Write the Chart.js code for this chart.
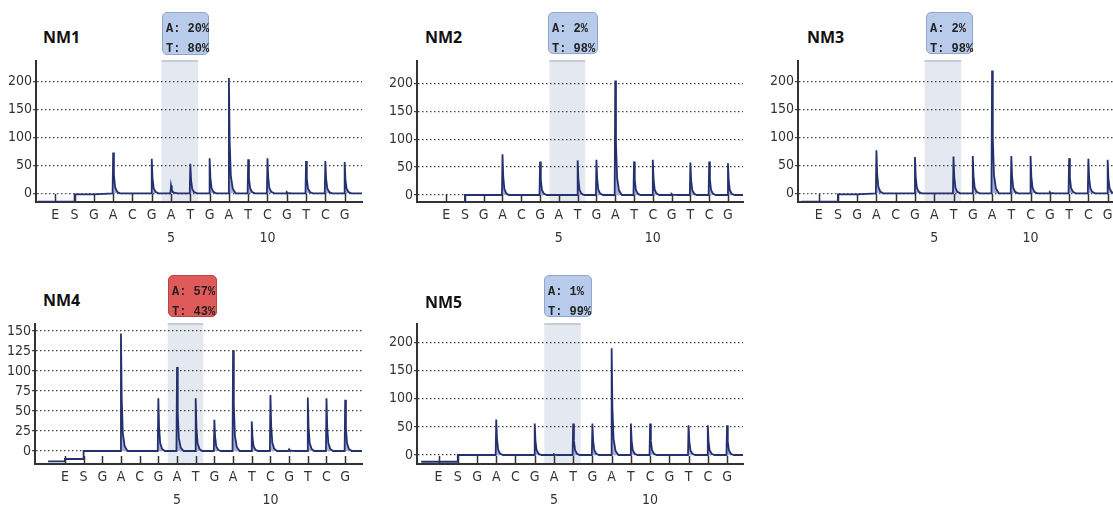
<!DOCTYPE html>
<html>
<head>
<meta charset="utf-8">
<script src="https://cdn.jsdelivr.net/npm/chart.js@4.4.1/dist/chart.umd.min.js"></script>
<style>
    html, body { margin: 0; padding: 0; background: #fff; }
    body { width: 1113px; height: 506px; position: relative; overflow: hidden; }
    canvas { position: absolute; }
    .title { position: absolute; font-family: 'Open Sans', sans-serif; font-weight: 700; font-size: 16px; color: #111; line-height: 20px; }
    .allele { position: absolute; box-sizing: border-box; border-radius: 5px; padding: 6px 0 0 3px;
              font-family: 'Liberation Mono', monospace; font-weight: 700; font-size: 12px; line-height: 20px; color: #222; white-space: pre; }
    .allele.ok { background: #b8cbeb; border: 1px solid #8fa5cc; }
    .allele.warn { background: #e15a5a; border: 1px solid #b94444; }
</style>
</head>
<body>
<script>
// --- Data ---
const dispensation = ['E', 'S', 'G', 'A', 'C', 'G', 'A', 'T', 'G', 'A', 'T', 'C', 'G', 'T', 'C', 'G'];
const positionLabels = ['', '', '', '', '', '', '5', '', '', '', '', '10', '', '', '', ''];

// peak heights per dispensation (E, S, G, A, C, ...)
const nm1Heights = [0, 0, 0, 73, 0, 62, 14, 53, 63, 207, 61, 63, 2, 58, 58, 56];
const nm2Heights = [0, 0, 0, 73, 0, 60, 0, 62, 63, 205, 60, 63, 2, 58, 60, 57];
const nm3Heights = [0, 0, 0, 77, 0, 65, 0, 66, 67, 220, 67, 67, 2, 63, 62, 60];
const nm4Heights = [0, 0, 0, 147, 0, 66, 105, 66, 39, 126, 37, 70, 2, 67, 66, 64];
const nm5Heights = [0, 0, 0, 63, 0, 56, 1, 56, 56, 190, 56, 56, 0, 53, 53, 53];

// baseline level before E, between E-S, between S-G
const nm1Lead = [-15, -15, -2];
const nm2Lead = [-15, -15, 0];
const nm3Lead = [-15, -15, -2];
const nm4Lead = [-13, -10, 0];
const nm5Lead = [-12, -12, 0];
const traceStart = [0.1, 1.2, 0.1, 0.1, 0.1];

const yTicksMain = [0, 50, 100, 150, 200];
const yTicksNM4 = [0, 25, 50, 75, 100, 125, 150];

const sampleNames = ['NM1', 'NM2', 'NM3', 'NM4', 'NM5'];
const alleleA = ['20%', '2%', '2%', '57%', '1%'];
const alleleT = ['80%', '98%', '98%', '43%', '99%'];

const snpRange = [6.5, 8.4]; // shaded A/T position

// --- Layout (chart area in page px) ---
const panels = [
    { heights: nm1Heights, lead: nm1Lead, area: [36, 61, 362, 202], xr: [0, 16.9], yr: [-15.6, 237.3], yTicks: yTicksMain,
      title: [43, 27], box: [162, 12, 47, 43], warn: false },
    { heights: nm2Heights, lead: nm2Lead, area: [417, 61, 743, 202], xr: [-0.55, 16.8], yr: [-12.5, 240], yTicks: yTicksMain,
      title: [425, 27], box: [548, 12, 50, 42], warn: false },
    { heights: nm3Heights, lead: nm3Lead, area: [798, 61, 1125, 202], xr: [-0.07, 16.9], yr: [-15.6, 237.1], yTicks: yTicksMain,
      title: [807, 27], box: [926, 12, 47, 42], warn: false },
    { heights: nm4Heights, lead: nm4Lead, area: [35, 324, 362, 464], xr: [-0.6, 16.9], yr: [-16.25, 158.75], yTicks: yTicksNM4,
      title: [43, 290], box: [168, 275, 49, 42], warn: true },
    { heights: nm5Heights, lead: nm5Lead, area: [417, 324, 743, 464], xr: [-0.12, 16.83], yr: [-16, 233.3], yTicks: yTicksMain,
      title: [425, 292], box: [544, 275, 48, 42], warn: false }
];

// Build the trace: baseline segments, then a sharp peak at each dispensation
function buildTrace(heights, lead, start) {
    const pts = [];
    for (let k = 0; k < 3; k++) {
        const from = Math.max(start, k), to = k + 1;
        if (to <= start) continue;
        pts.push({ x: from, y: lead[k] }, { x: to, y: lead[k] });
    }
    heights.forEach((h, i) => {
        const p = i + 1;
        if (p < 3 || h <= 0) return;
        pts.push({ x: p - 0.03, y: 0 }, { x: p, y: h }, { x: p + 0.04, y: h * 0.45 },
                 { x: p + 0.1, y: h * 0.15 }, { x: p + 0.2, y: h * 0.04 }, { x: p + 0.35, y: 0 });
    });
    pts.push({ x: 20, y: 0 });
    return pts;
}

const pyroPlugin = {
    id: 'pyro',
    beforeDraw(chart) {
        const { ctx, chartArea, scales: { x } } = chart;
        const x0 = x.getPixelForValue(snpRange[0]);
        const x1 = x.getPixelForValue(snpRange[1]);
        ctx.save();
        ctx.fillStyle = '#e4e9f1';
        ctx.fillRect(x0, chartArea.top, x1 - x0, chartArea.bottom - chartArea.top);
        ctx.fillStyle = '#c6cbd4';
        ctx.fillRect(x0, chartArea.top - 1, x1 - x0, 2);
        ctx.restore();
    },
    beforeDatasetsDraw(chart) {
        // short inner tick marks at each dispensation
        const { ctx, chartArea, scales: { x } } = chart;
        ctx.save();
        ctx.strokeStyle = '#333';
        ctx.lineWidth = 1.5;
        ctx.beginPath();
        x.ticks.forEach(t => {
            const px = Math.round(x.getPixelForValue(t.value)) + 0.5;
            ctx.moveTo(px, chartArea.bottom);
            ctx.lineTo(px, chartArea.bottom - 8);
        });
        ctx.stroke();
        ctx.restore();
    }
};

const tickFont = { family: "'DejaVu Sans Condensed', 'Liberation Sans Narrow', 'DejaVu Sans', sans-serif", size: 14 };

panels.forEach((p, idx) => {
    const [L, T, R, B] = p.area;
    const canvas = document.createElement('canvas');
    canvas.width = R - L + 52;
    canvas.height = B - T + 62;
    canvas.style.left = (L - 40) + 'px';
    canvas.style.top = (T - 12) + 'px';
    document.body.appendChild(canvas);

    const title = document.createElement('div');
    title.className = 'title';
    title.style.left = p.title[0] + 'px';
    title.style.top = p.title[1] + 'px';
    title.textContent = sampleNames[idx];
    document.body.appendChild(title);

    const box = document.createElement('div');
    box.className = 'allele ' + (p.warn ? 'warn' : 'ok');
    box.style.left = p.box[0] + 'px';
    box.style.top = p.box[1] + 'px';
    box.style.width = p.box[2] + 'px';
    box.style.height = p.box[3] + 'px';
    box.textContent = 'A: ' + alleleA[idx] + '\nT: ' + alleleT[idx];
    document.body.appendChild(box);

    new Chart(canvas.getContext('2d'), {
        type: 'line',
        data: {
            datasets: [{
                data: buildTrace(p.heights, p.lead, traceStart[idx]),
                borderColor: '#25316f',
                borderWidth: 1.8,
                pointRadius: 0,
                tension: 0,
                fill: { target: { value: 0 }, above: '#a3b0d8', below: 'rgba(0,0,0,0)' }
            }]
        },
        options: {
            responsive: false,
            animation: false,
            devicePixelRatio: 1,
            events: [],
            layout: { padding: { top: 12, right: 12, left: 0, bottom: 0 } },
            plugins: { legend: { display: false }, tooltip: { enabled: false } },
            scales: {
                x: {
                    type: 'linear',
                    min: p.xr[0],
                    max: p.xr[1],
                    afterBuildTicks: s => { s.ticks = dispensation.map((d, i) => ({ value: i + 1 })); },
                    afterFit: s => { s.height = 50; },
                    ticks: {
                        autoSkip: false,
                        maxRotation: 0,
                        padding: 1,
                        color: '#333',
                        font: Object.assign({ lineHeight: 1.7 }, tickFont),
                        callback: (v, i) => [dispensation[i], positionLabels[i]]
                    },
                    grid: { display: false, drawTicks: false, tickLength: 0 },
                    border: { display: true, color: '#333', width: 2 }
                },
                y: {
                    min: p.yr[0],
                    max: p.yr[1],
                    afterBuildTicks: s => { s.ticks = p.yTicks.map(v => ({ value: v })); },
                    afterFit: s => { s.width = 40; },
                    ticks: { padding: 1, color: '#333', font: tickFont },
                    grid: {
                        color: '#444',
                        lineWidth: 1.3,
                        tickLength: 3,
                        tickColor: '#444',
                        tickBorderDash: []
                    },
                    border: { display: true, color: '#333', width: 2, dash: [1.5, 2.5] }
                }
            }
        },
        plugins: [pyroPlugin]
    });
});
</script>
</body>
</html>
